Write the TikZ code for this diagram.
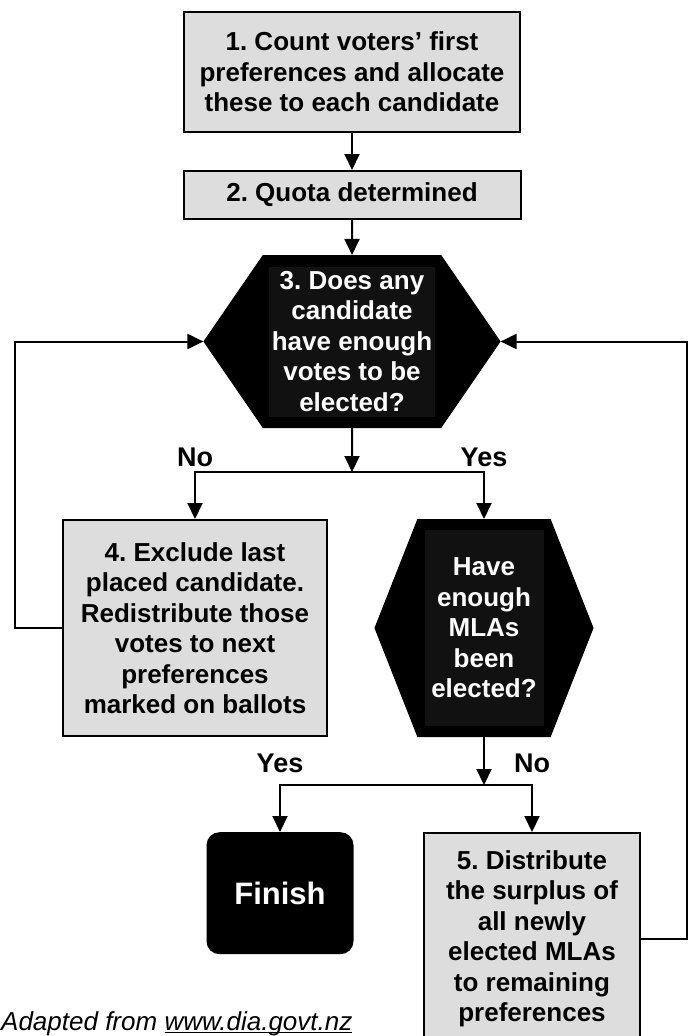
\documentclass[tikz,border=0pt]{standalone}
\usepackage{fontspec}
\setmainfont{Liberation Sans}
\usepackage{tikz}
\usetikzlibrary{positioning,shapes.symbols,arrows.meta}
\usepackage{xcolor}
\definecolor{boxgray}{HTML}{DDDDDD}
\definecolor{innerblack}{HTML}{111111}
\newcommand{\weblink}[1]{\setbox0\hbox{#1}\rlap{\rule[-3pt]{\wd0}{1.2pt}}\box0}
\frenchspacing

\begin{document}
\begin{tikzpicture}[
        x=1pt, y=1pt,
        node distance=37pt,
        box/.style={rectangle, draw, line width=2pt, fill=boxgray, inner sep=0pt, align=center, font=\fontsize{26}{30.5}\selectfont\bfseries},
        decision/.style={signal, signal to=west and east, draw, fill=black, line width=1pt, inner sep=0pt, align=center, text=white, font=\fontsize{26}{30.5}\selectfont\bfseries},
        arrow/.style={-{Triangle[length=16pt, width=15pt]}, line width=2pt},
        answer/.style={font=\fontsize{27}{30}\selectfont\bfseries, inner sep=0pt}
    ]
    \useasboundingbox (0,0) rectangle (689,-1036);

        % Step 1 and 2
        \node[box, minimum width=336pt, minimum height=120pt] (count) at (352,-72) {1. Count voters' first\\preferences and allocate\\these to each candidate};
        \node[box, minimum width=337pt, minimum height=48pt, below=37pt of count] (quota) {2. Quota determined};

        % Step 3: decision
        \node[decision, minimum width=296pt, minimum height=172pt, signal pointer angle=111, below=35pt of quota,
              path picture={\fill[innerblack] ([shift={(-83pt,-75pt)}]path picture bounding box.center) rectangle ([shift={(83pt,75pt)}]path picture bounding box.center);}] (ask) {3. Does any\\candidate\\have enough\\votes to be\\elected?};
        \coordinate[below=44pt of ask] (split1);

        % Step 4: exclude
        \node[box, minimum width=264pt, minimum height=216pt, below left=47pt and 24pt of split1] (exclude) {4. Exclude last\\placed candidate.\\Redistribute those\\votes to next\\preferences\\marked on ballots};

        % Enough MLAs?
        \node[decision, minimum width=218pt, minimum height=217pt, signal pointer angle=137, below=47pt of split1, xshift=132pt,
              path picture={\fill[innerblack] ([shift={(-59.5pt,-98pt)}]path picture bounding box.center) rectangle ([shift={(59.5pt,98pt)}]path picture bounding box.center);}] (enough) {Have\\enough\\MLAs\\been\\elected?};
        \coordinate[below=48pt of enough] (split2);

        % Finish and step 5
        \node[rectangle, rounded corners=13pt, fill=black, text=white, minimum width=147pt, minimum height=122pt, font=\fontsize{31}{34}\selectfont\bfseries, below=47pt of split2, xshift=-204pt] (finish) {Finish};
        \node[box, minimum width=216pt, minimum height=212pt, below=47pt of split2, xshift=48pt] (distribute) {5. Distribute\\the surplus of\\all newly\\elected MLAs\\to remaining\\preferences};

        % Source
        \node[anchor=base west, inner sep=0pt, font=\fontsize{26}{30}\selectfont\itshape] (source) at (1,-1030) {Adapted from \weblink{www.dia.govt.nz}};

        % Arrows
        \draw[arrow] (count) -- (quota);
        \draw[arrow] (quota) -- (ask);
        \draw[arrow] (ask) -- (split1);
        \draw[arrow] (split1) -| node[answer, above=4pt] {No} (exclude.north);
        \draw[arrow] (split1) -| node[answer, above=4pt] {Yes} (enough.north);
        \draw[arrow] (enough) -- (split2);
        \draw[arrow] (split2) -| node[answer, above=11pt] {Yes} (finish.north);
        \draw[arrow] (split2) -| node[answer, above=11pt] {No} (distribute.north);
        \draw[arrow] (exclude.west) -- ++(-47,0) |- (ask.west);
        \draw[arrow] (distribute.east) -- ++(46,0) |- (ask.east);
    \end{tikzpicture}
\end{document}
